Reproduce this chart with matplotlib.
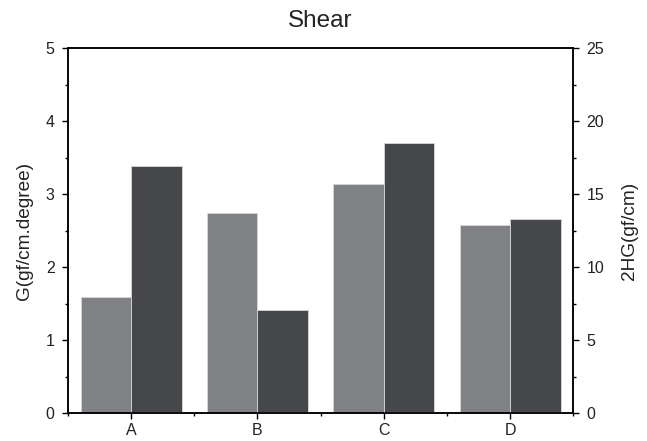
import numpy as np
import matplotlib.pyplot as plt
from matplotlib.ticker import MultipleLocator, FixedLocator

plt.rcParams['font.family'] = ['Liberation Sans', 'DejaVu Sans']

categories = ['A', 'B', 'C', 'D']
g_values = [1.59, 2.74, 3.14, 2.58]        # G(gf/cm.degree), left axis
hg_values = [16.95, 7.05, 18.5, 13.3]      # 2HG(gf/cm), right axis

light = '#808184'
dark = '#46474a'
text_col = '#222222'

fig = plt.figure(figsize=(6.47, 4.41), dpi=100)
ax = fig.add_axes([0.105, 0.0635, 0.781, 0.8275])
ax2 = ax.twinx()

x = np.arange(len(categories))
w = 0.4
ax.bar(x - w / 2, g_values, w, color=light, edgecolor='#d8d8d8', linewidth=0.6)
ax2.bar(x + w / 2, hg_values, w, color=dark, edgecolor='#d8d8d8', linewidth=0.6)

ax.set_xlim(-0.5, 3.5)
ax.set_ylim(0, 5)
ax2.set_ylim(0, 25)

ax.set_xticks(x)
ax.set_xticklabels(categories)
ax.xaxis.set_minor_locator(FixedLocator([-0.5, 0.5, 1.5, 2.5, 3.5]))
ax.yaxis.set_major_locator(MultipleLocator(1))
ax.yaxis.set_minor_locator(MultipleLocator(0.5))
ax2.yaxis.set_major_locator(MultipleLocator(5))
ax2.yaxis.set_minor_locator(MultipleLocator(2.5))

for a in (ax, ax2):
    a.tick_params(which='major', direction='out', length=4.5, width=1,
                  labelsize=11.5, pad=5, labelcolor=text_col)
    a.tick_params(which='minor', direction='out', length=2.5, width=1)
    for s in a.spines.values():
        s.set_linewidth(1.1)
ax.tick_params(axis='x', pad=3)

ax.set_ylabel('G(gf/cm.degree)', fontsize=13.7, labelpad=9, color=text_col)
ax2.set_ylabel('2HG(gf/cm)', fontsize=13.7, labelpad=12, color=text_col)
ax.set_title('Shear', fontsize=17.5, pad=15, color=text_col)

fig.savefig('out.png', dpi=100)
